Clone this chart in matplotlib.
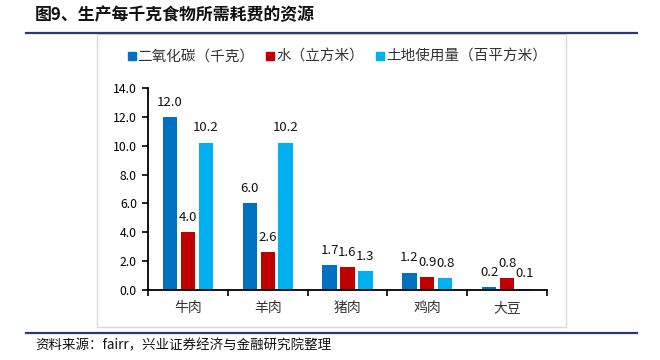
import matplotlib
matplotlib.use('Agg')
import matplotlib.pyplot as plt
import numpy as np
from matplotlib.lines import Line2D
from matplotlib.patches import Rectangle

plt.rcParams['font.family'] = ['Noto Sans CJK SC', 'DejaVu Sans']

# 数据
categories = ['牛肉', '羊肉', '猪肉', '鸡肉', '大豆']
co2 = [12.0, 6.0, 1.7, 1.2, 0.2]
water = [4.0, 2.6, 1.6, 0.9, 0.8]
land = [10.2, 10.2, 1.3, 0.8, 0.1]
series_names = ['二氧化碳（千克）', '水（立方米）', '土地使用量（百平方米）']
colors = ['#0070C0', '#C00000', '#00B0F0']
y_ticks = [0, 2, 4, 6, 8, 10, 12, 14]

fig = plt.figure(figsize=(6.6, 3.6), dpi=100)

# 外框和两条深蓝色横线
fig.patches.append(Rectangle((97 / 660, 1 - 327 / 360), 469 / 660, 293 / 360,
                             transform=fig.transFigure, fill=False,
                             edgecolor='#D9D9D9', lw=1))
for yy in [1 - 33 / 360, 1 - 333 / 360]:
    fig.add_artist(Line2D([26 / 660, 637 / 660], [yy, yy], transform=fig.transFigure,
                          color='#2E3870', lw=1.6))

fig.text(35 / 660, 1 - 15 / 360, '图9、生产每千克食物所需耗费的资源', fontsize=12.2,
         fontweight='bold', va='center', ha='left', color='#111111')
fig.text(35 / 660, 1 - 345 / 360, '资料来源：fairr，兴业证券经济与金融研究院整理', fontsize=9.7,
         va='center', ha='left', color='#111111')

ax = fig.add_axes([148 / 660, 1 - 290 / 360, 399 / 660, 202 / 360])
x = np.arange(len(categories))
offsets = [-0.225, 0.0, 0.225]
width = 0.18
for vals, off, c, name in zip([co2, water, land], offsets, colors, series_names):
    bars = ax.bar(x + off, vals, width=width, color=c, label=name)
    for b, v in zip(bars, vals):
        ax.annotate(f'{v:.1f}', (b.get_x() + b.get_width() / 2, v),
                    xytext=(0, 6), textcoords='offset points',
                    ha='center', va='bottom', fontsize=9.5, color='#111111')

ax.set_xlim(-0.5, len(categories) - 0.5)
ax.set_ylim(0, 14)
ax.set_yticks(y_ticks)
ax.set_yticklabels([f'{t:.1f}' for t in y_ticks], fontsize=8.8)
ax.set_xticks(x)
ax.set_xticklabels(categories, fontsize=10, color='#333333')
ax.set_xticks(np.arange(-0.5, len(categories)), minor=True)
ax.tick_params(axis='x', which='major', length=0, pad=8)
ax.tick_params(axis='x', which='minor', length=4, width=1.2, direction='out')
ax.tick_params(axis='y', length=4, width=1.2, direction='out', pad=4)
for s in ['top', 'right']:
    ax.spines[s].set_visible(False)
for s in ['left', 'bottom']:
    ax.spines[s].set_linewidth(1.3)

handles = [Line2D([], [], marker='s', linestyle='', color=c, markersize=6) for c in colors]
fig.legend(handles, series_names, loc='center', bbox_to_anchor=(337 / 660, 1 - 57 / 360),
           ncol=3, frameon=False, fontsize=10.5, handlelength=0.6, handletextpad=0.1,
           columnspacing=0.8, labelcolor='#333333')

fig.savefig('out.png', dpi=100)
